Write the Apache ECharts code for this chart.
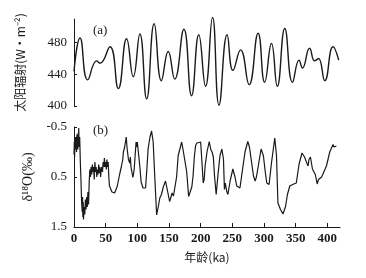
<!DOCTYPE html>
<html>
<head>
<meta charset="utf-8">
<script src="https://cdn.jsdelivr.net/npm/echarts@6/dist/echarts.min.js"></script>
<style>
  html, body { margin: 0; padding: 0; background: #fff; }
  #chart { width: 366px; height: 278px; }
</style>
</head>
<body>
<div id="chart"></div>
<script>
// (a) 太阳辐射 — turning points
var insolAge = [0, 9.5, 21.6, 35.8, 41, 56.8, 70, 83, 93.6, 104, 114.7, 126.6, 138, 148.8, 159,
  173.5, 185.6, 197, 207.7, 218.7, 229, 241.8, 251, 263, 276.5, 290.7, 301, 311.8, 321, 332.8,
  345, 355.4, 360.7, 372, 380, 386, 396, 409, 418];
var insolValue = [444, 486, 433, 457, 454, 475, 422, 485, 437, 491, 409, 504, 432, 469, 434,
  497, 413, 490, 425, 512, 401, 490, 445, 471, 427, 492, 430, 479, 425, 498,
  430, 458, 448, 473, 457, 460, 432, 475, 458];

// (b) δ18O
var d18oAge = [0, 0.5, 1, 1.5, 2, 2.5, 3, 3.5, 4, 4.5, 5, 5.5, 6, 6.5, 7, 7.5, 8, 9, 10, 11, 12, 13,
  13.5, 14, 14.5, 15, 16, 17, 18, 19, 20, 21, 22, 23, 24, 25, 26, 27, 28, 29, 30, 31, 32, 33, 34,
  35, 36, 37, 38, 39, 40, 41, 42, 43, 44, 45, 46, 47, 48, 49, 50, 51, 52, 53, 54, 55, 56, 58, 60,
  62, 64, 66, 68, 72, 75, 77, 78, 80, 82.5, 84, 86, 88, 89, 90, 93, 95, 98, 99, 100, 102, 104, 106,
  109, 113, 115, 117, 120, 122.5, 125, 128, 130.5, 133, 135.5, 138, 141, 144.5, 147, 151, 155, 157,
  159, 162, 164.5, 167, 170, 172, 173.5, 175, 178, 181, 183, 186, 188, 190, 192, 194, 196, 200, 202,
  204, 205.5, 207, 210, 213.5, 216, 218, 220, 222, 224.5, 227, 230.5, 233.5, 236, 237.5, 239, 241,
  243, 246.5, 250.8, 254.4, 257, 259, 262, 265, 270, 274.4, 277, 279.7, 283.4, 286, 288, 291, 295.4,
  299, 302, 304.4, 308, 312, 317, 319.7, 322, 326, 330, 334, 337, 340.7, 343, 347, 351, 355.4, 360,
  364, 367, 369.6, 371, 373.3, 376.5, 378, 381, 384, 386, 388, 391, 394, 398.6, 403.8, 409, 410.5,
  411.7, 413, 414.3];
var d18oValue = [0.05, -0.2, 0.1, -0.25, -0.05, -0.3, -0.1, -0.28, 0.0, -0.35, -0.15, -0.3, -0.05,
  -0.38, -0.2, -0.48, -0.1, -0.3, 0.2, 0.55, 1.0, 1.2, 0.9, 1.3, 1.0, 1.35, 1.1, 1.25, 0.95, 1.15,
  0.9, 1.1, 0.8, 1.05, 0.6, 0.35, 0.5, 0.3, 0.45, 0.25, 0.4, 0.3, 0.55, 0.2, 0.4, 0.3, 0.5, 0.35,
  0.45, 0.25, 0.42, 0.3, 0.5, 0.35, 0.3, 0.4, 0.2, 0.3, 0.12, 0.3, 0.2, 0.35, 0.15, 0.3, 0.2, 0.5,
  0.68, 0.72, 0.8, 0.78, 0.82, 0.78, 0.7, 0.45, 0.28, 0.15, 0.0, -0.1, -0.3, -0.05, 0.15, 0.22, 0.1,
  0.3, 0.51, 0.35, -0.2, -0.1, -0.2, 0.05, 0.3, 0.6, 0.72, 0.72, 0.35, -0.06, -0.3, -0.42, -0.2,
  0.62, 1.26, 1.1, 0.92, 0.85, 0.7, 0.58, 0.62, 0.99, 0.82, 0.88, 0.85, 0.5, 0.07, -0.05, -0.2,
  -0.06, -0.1, -0.03, 0.4, 0.89, 0.85, 0.7, 0.48, 0.1, -0.13, -0.18, -0.21, -0.2, 0.2, 0.62, 0.55,
  0.28, 0.0, -0.21, -0.05, 0.0, 0.1, 0.5, 0.85, 0.5, 0.07, -0.06, 0.14, 0.75, 0.62, 0.78, 0.85, 0.58,
  0.34, 0.51, 0.68, 0.65, 0.72, 0.45, 0.0, -0.21, -0.1, -0.06, 0.48, 0.58, 0.5, 0.28, -0.06, 0.07,
  0.4, 0.62, 0.65, 0.2, -0.28, 0.07, 1.02, 1.15, 1.24, 1.09, 0.85, 0.68, 0.65, 0.64, 0.62, 0.24,
  0.02, 0.1, 0.2, 0.28, 0.15, 0.1, 0.34, 0.31, 0.45, 0.64, 0.55, 0.51, 0.5, 0.51, 0.28, 0.0, -0.15,
  -0.1, -0.08, -0.14, -0.12];

var serif = '"Liberation Serif", "DejaVu Serif", serif';
var cjk = '"Noto Sans CJK SC", sans-serif';
var ink = '#1a1a1a';

function pairs(xs, ys) {
  var out = [];
  for (var i = 0; i < xs.length; i++) out.push([xs[i], ys[i]]);
  return out;
}

var chart = echarts.init(document.getElementById('chart'));
chart.setOption({
  animation: false,
  backgroundColor: '#fff',
  title: [
    { text: '(a)', left: 88, top: 19, textStyle: { fontFamily: serif, fontSize: 13, fontWeight: 'normal', color: ink } },
    { text: '(b)', left: 88, top: 119, textStyle: { fontFamily: serif, fontSize: 13, fontWeight: 'normal', color: ink } }
  ],
  grid: [
    { left: 74, right: 26, top: 19, height: 87 },
    { left: 74, right: 26, top: 127, height: 100 }
  ],
  xAxis: [
    { gridIndex: 0, type: 'value', min: 0, max: 420, show: false },
    {
      gridIndex: 1, type: 'value', min: 0, max: 420, interval: 50,
      axisLine: { onZero: false, lineStyle: { color: ink, width: 1 } },
      axisTick: { inside: true, length: 4, lineStyle: { color: ink } },
      axisLabel: { showMaxLabel: false, margin: 5, fontFamily: serif, fontSize: 13, fontWeight: 'bold', color: ink },
      splitLine: { show: false },
      name: '年龄(ka)', nameLocation: 'middle', nameGap: 24,
      nameTextStyle: { fontFamily: cjk, fontSize: 12, color: ink }
    }
  ],
  yAxis: [
    {
      gridIndex: 0, type: 'value', min: 400, max: 510, interval: 40,
      axisLine: { show: true, onZero: false, lineStyle: { color: ink, width: 1 } },
      axisTick: { show: true, inside: true, length: 3, lineStyle: { color: ink } },
      axisLabel: { showMaxLabel: false, margin: 7, fontFamily: serif, fontSize: 13, color: ink },
      splitLine: { show: false },
      name: '太阳辐射(W·m⁻²)', nameLocation: 'middle', nameGap: 48,
      nameTextStyle: { fontFamily: cjk, fontSize: 12, color: ink }
    },
    {
      gridIndex: 1, type: 'value', inverse: true, min: -0.5, max: 1.5, interval: 1,
      axisLine: { show: true, onZero: false, lineStyle: { color: ink, width: 1 } },
      axisTick: { show: true, inside: true, length: 3, lineStyle: { color: ink } },
      axisLabel: { margin: 7, fontFamily: serif, fontSize: 13, color: ink },
      splitLine: { show: false },
      name: 'δ¹⁸O(‰)', nameLocation: 'middle', nameGap: 36,
      nameTextStyle: { fontFamily: serif, fontSize: 14, color: ink }
    }
  ],
  series: [
    {
      type: 'line', xAxisIndex: 0, yAxisIndex: 0, data: pairs(insolAge, insolValue),
      smooth: 0.5, showSymbol: false, clip: false, lineStyle: { color: ink, width: 1.4 }
    },
    {
      type: 'line', xAxisIndex: 1, yAxisIndex: 1, data: pairs(d18oAge, d18oValue),
      showSymbol: false, clip: false, lineStyle: { color: ink, width: 1.2 }
    }
  ]
});
</script>
</body>
</html>
